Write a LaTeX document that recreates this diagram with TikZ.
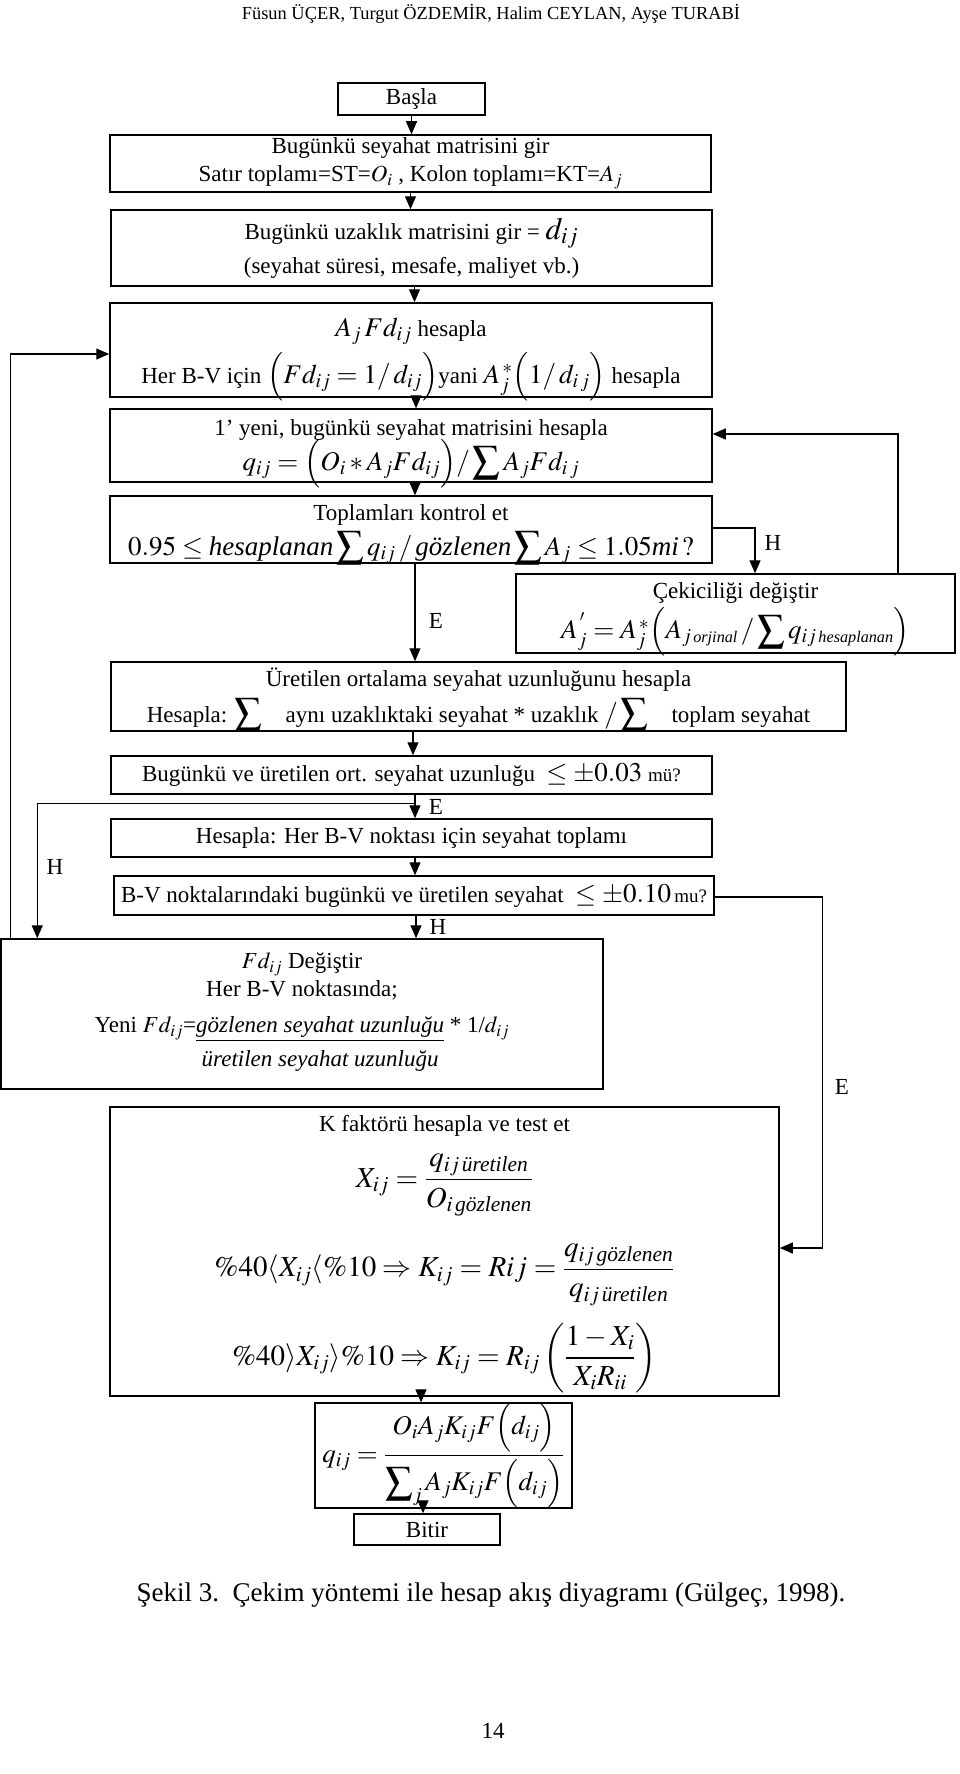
\documentclass[tikz,border=0pt]{standalone}
\usepackage{amsmath}
\usepackage{mathptmx}
\usepackage{fontspec}
\setmainfont{Liberation Serif}
\usetikzlibrary{arrows.meta}
\newcommand{\mbig}{\fontsize{27}{31}\selectfont}
\newcommand{\mhuge}{\fontsize{29}{33}\selectfont}
\newcommand{\msmall}{\fontsize{19}{22}\selectfont}
\newcommand{\ssum}{\mathop{\smash{\displaystyle\sum}}}
\newcommand{\sop}[1]{\mathopen{\smash{#1(}}}
\newcommand{\scl}[1]{\mathclose{\smash{#1)}}}
\newcommand{\tp}[1]{\rule{0pt}{#1}}
\newcommand{\dep}[1]{\rule[-#1]{0pt}{#1}}
\newcommand{\nodep}[1]{\raisebox{0pt}[\height][0pt]{#1}}

\begin{document}
\begin{tikzpicture}[x=1pt,y=-1pt,
  box/.style={draw,line width=1.5pt,align=center,inner sep=0pt,font=\fontsize{23}{28}\selectfont},
  arr/.style={line width=1.2pt,-{Triangle[length=13pt,width=11pt]}},
  lbl/.style={font=\fontsize{23}{28}\selectfont}]
\useasboundingbox (0,0) rectangle (960,1774);
\node[font=\fontsize{18.4}{22}\selectfont] (head) at (491,14) {Füsun ÜÇER, Turgut ÖZDEMİR, Halim CEYLAN, Ayşe TURABİ};
\node[box,minimum width=147,minimum height=32] (basla) at (411.5,99) {Başla};
\node[box,minimum width=601,minimum height=57] (gir) at (410.5,163.5) {Bugünkü seyahat matrisini gir\\ Satır toplamı=ST=$O_i$ , Kolon toplamı=KT=$A_j$};
\node[box,minimum width=601,minimum height=76] (uzak) at (411.5,248) {Bugünkü uzaklık matrisini gir = {\fontsize{31}{31}\selectfont$d_{ij}$}\\[6pt] (seyahat süresi, mesafe, maliyet vb.)};
\node[box,minimum width=602,minimum height=94] (fd) at (411,350) {\tp{32pt}{\mbig$A_j\,Fd_{ij}$} hesapla\\[18pt] Her B-V için {\mbig$\sop\Bigl Fd_{ij}=1/\,d_{ij}\scl\Bigr$}yani {\mbig$A_j^{\,*}\sop\Bigl 1/\,d_{i\,j}\scl\Bigr$} hesapla\dep{12pt}};
\node[box,minimum width=602,minimum height=73] (yeni) at (411,445.5) {\tp{26pt}1’ yeni, bugünkü seyahat matrisini hesapla\\[7pt] {\mbig$q_{ij}=\sop\Bigl O_i * A_jFd_{ij}\scl\Bigr/\ssum A_jFd_{i\,j}$}\dep{12pt}};
\node[box,minimum width=602,minimum height=67] (kontrol) at (411,529.5) {\tp{24pt}Toplamları kontrol et\\[7pt] \nodep{\mbig$0.95\le\textit{hesaplanan}\ssum q_{ij}\,/\,\textit{gözlenen}\ssum A_j\le1.05\textit{mi}\,?$}\dep{8pt}};
\node[box,minimum width=439,minimum height=75] (cekim) at (735.5,613.5) {\tp{24pt}Çekiciliği değiştir\\[9pt] \nodep{\mbig$A_j^{\,'}=A_j^{\,*}\sop\Bigl A_{j\,\scriptscriptstyle\textit{orjinal}}\,/\ssum q_{ij\,\scriptscriptstyle\textit{hesaplanan}}\scl\Bigr$}\dep{14pt}};
\node[box,minimum width=735,minimum height=69] (ortlm) at (478.5,696.5) {\tp{23pt}Üretilen ortalama seyahat uzunluğunu hesapla\\[8pt] Hesapla: {\mbig$\ssum$}\quad aynı uzaklıktaki seyahat * uzaklık {\mbig$/\ssum$}\quad toplam seyahat\dep{8pt}};
\node[box,minimum width=601,minimum height=38] (test1) at (411.5,775) {Bugünkü ve üretilen ort. seyahat uzunluğu\ \ {\mbig$\le\pm0.03$} {\msmall mü?}};
\node[box,minimum width=601,minimum height=38] (topla) at (411.5,838) {Hesapla: Her B-V noktası için seyahat toplamı};
\node[box,minimum width=600,minimum height=39] (test2) at (414,895.5) {B-V noktalarındaki bugünkü ve üretilen seyahat\ \ {\mbig$\le\pm0.10$}{\msmall\,mu?}};
\node[box,minimum width=602,minimum height=150] (fdyeni) at (302,1014) {$Fd_{ij}$ Değiştir\\ Her B-V noktasında;\\[8pt] Yeni $Fd_{ij}$=\begin{tabular}[t]{@{}c@{}}\underline{\textit{gözlenen seyahat uzunluğu}}\\[6pt]\textit{üretilen seyahat uzunluğu}\end{tabular} * 1/$d_{ij}$};
\node[box,minimum width=669,minimum height=289] (kfak) at (444.5,1251.5) {K faktörü hesapla ve test et\\[16pt]
  {\mhuge$X_{ij}=\dfrac{q_{ij\,\textit{üretilen}}}{O_{i\,\textit{gözlenen}}}$}\\[26pt]
  {\mhuge$\%40\langle X_{ij}\langle\%10\Rightarrow K_{ij}=Rij=\dfrac{q_{ij\,\textit{gözlenen}}}{q_{ij\,\textit{üretilen}}}$}\\[16pt]
  \nodep{\mhuge$\%40\rangle X_{ij}\rangle\%10\Rightarrow K_{ij}=R_{ij}\left(\dfrac{1-X_i}{X_iR_{ii}}\right)$}\dep{22pt}};
\node[box,minimum width=257,minimum height=85] (qson) at (443.5,1455.5) {{\mbig$q_{ij}=\dfrac{O_iA_jK_{ij}F\Bigl(d_{ij}\Bigr)}{\displaystyle\sum\nolimits_j A_jK_{ij}F\Bigl(d_{ij}\Bigr)}$}};
\node[box,minimum width=146,minimum height=31] (bitir) at (427,1529.5) {Bitir};
\node[font=\fontsize{27}{32}\selectfont] (cap) at (491,1595) {Şekil 3.\ \ Çekim yöntemi ile hesap akış diyagramı (Gülgeç, 1998).};
\node[font=\fontsize{23}{28}\selectfont] (sayfa) at (493,1731) {14};
\node[lbl] (e1) at (436,621) {E};
\node[lbl] (h1) at (773,543) {H};
\node[lbl] (e2) at (436,807) {E};
\node[lbl] (h2) at (55,867) {H};
\node[lbl] (h3) at (438,927) {H};
\node[lbl] (e3) at (842,1087) {E};
\draw[arr] (basla.south) -- (basla.south |- gir.north);
\draw[arr] (gir.south) -- (gir.south |- uzak.north);
\draw[arr] ([xshift=3pt]uzak.south) -- ([xshift=3pt]uzak.south |- fd.north);
\draw[arr] ([xshift=5pt]fd.south) -- ([xshift=5pt]fd.south |- yeni.north);
\draw[arr] ([xshift=4pt]yeni.south) -- ([xshift=4pt]yeni.south |- kontrol.north);
\draw[arr] ([xshift=4pt]kontrol.south) -- ([xshift=4pt]kontrol.south |- ortlm.north);
\draw[arr] ([yshift=1.5pt]kontrol.east) -| ([xshift=19.5pt]cekim.north);
\draw[arr] ([xshift=162.5pt]cekim.north) |- ([yshift=11.5pt]yeni.east);
\draw[arr] ([xshift=1.5pt]test1.south |- ortlm.south) -- ([xshift=1.5pt]test1.north);
\draw[arr] ([xshift=3.5pt]test1.south) -- ([xshift=3.5pt]test1.south |- topla.north);
\draw[arr] ([xshift=3.5pt,yshift=-9pt]test1.south) -| ([xshift=37pt]fdyeni.north west);
\draw[arr] ([xshift=3.5pt]topla.south) -- ([xshift=3.5pt]topla.south |- test2.north);
\draw[arr] ([xshift=2pt]test2.south) -- ([xshift=2pt]test2.south |- fdyeni.north);
\draw[arr] ([yshift=-1.5pt]test2.east) -- ++(108,0) |- ([yshift=3.5pt]kfak.east);
\draw[arr] ([xshift=10pt]fdyeni.north west) |- ([yshift=-4pt]fd.west);
\draw[arr] ([xshift=-23.5pt]kfak.south) -- ([xshift=-23.5pt]kfak.south |- qson.north);
\draw[arr] ([xshift=-4pt]bitir.north |- qson.south) -- ([xshift=-4pt]bitir.north);
\end{tikzpicture}
\end{document}
